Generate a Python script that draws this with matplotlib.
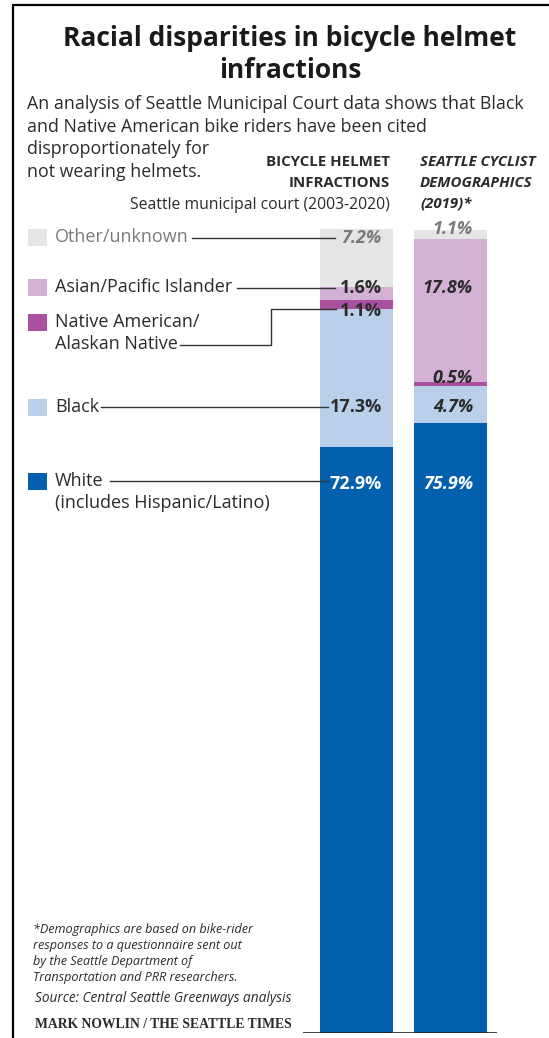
import numpy as np
import matplotlib
matplotlib.use('Agg')
import matplotlib.pyplot as plt
from matplotlib import font_manager

# Race groups, stacked from the bottom of each bar upward
groups = ['White', 'Black', 'Native American/Alaskan Native',
          'Asian/Pacific Islander', 'Other/unknown']
infractions = [72.9, 17.3, 1.1, 1.6, 7.2]      # Seattle municipal court, 2003-2020
demographics = [75.9, 4.7, 0.5, 17.8, 1.1]     # Seattle cyclist survey, 2019
colors = ['#0360AE', '#B9CFEA', '#A9509F', '#D3B1D5', '#E5E5E5']

legend_labels = ['White\n(includes Hispanic/Latino)', 'Black',
                 'Native American/\nAlaskan Native', 'Asian/Pacific Islander',
                 'Other/unknown']


def pick_font(names):
    have = {f.name for f in font_manager.fontManager.ttflist}
    for n in names:
        if n in have:
            return n
    return 'DejaVu Sans'


SANS = pick_font(['Liberation Sans Narrow', 'Open Sans', 'Noto Sans'])
SERIF = pick_font(['Liberation Serif', 'DejaVu Serif'])
plt.rcParams['font.family'] = SANS

W, H = 549, 1038
fig = plt.figure(figsize=(W / 100, H / 100), dpi=100)

# stacked bars
bx = fig.add_axes([303 / W, (H - 1033) / H, 194 / W, 804 / H])
xs = [0, 1]
bottoms = np.zeros(2)
for k in range(len(groups)):
    vals = np.array([infractions[k], demographics[k]])
    bx.bar(xs, vals, width=0.777, bottom=bottoms, color=colors[k], lw=0)
    bottoms += vals
bx.set_xlim(-0.569, 1.495)
bx.set_ylim(0, max(sum(infractions), sum(demographics)))
bx.axhline(0, color='#222222', lw=1.2)
bx.axis('off')

# full-figure overlay in pixel units for the text and leader lines
ax = fig.add_axes([0, 0, 1, 1])
ax.set_xlim(0, W)
ax.set_ylim(H, 0)
ax.axis('off')
ax.set_zorder(3)

# frame: left rule and top rule
ax.plot([12.5, 12.5], [5, H], color='black', lw=1.6, solid_capstyle='butt')
ax.plot([12, W], [5, 5], color='black', lw=1.6, solid_capstyle='butt')

dark = '#2b2b2b'
ax.text(290, 38, 'Racial disparities in bicycle helmet', ha='center', va='center',
        fontsize=19, fontweight='bold', color='#1a1a1a')
ax.text(290, 70, 'infractions', ha='center', va='center',
        fontsize=19, fontweight='bold', color='#1a1a1a')

sub = ['An analysis of Seattle Municipal Court data shows that Black',
       'and Native American bike riders have been cited',
       'disproportionately for',
       'not wearing helmets.']
for i, line in enumerate(sub):
    ax.text(27, 104 + i * 22.7, line, ha='left', va='center', fontsize=12.8, color=dark)

ax.text(390, 162, 'BICYCLE HELMET', ha='right', va='center', fontsize=10.8,
        fontweight='bold', color=dark)
ax.text(390, 183, 'INFRACTIONS', ha='right', va='center', fontsize=10.8,
        fontweight='bold', color=dark)
ax.text(390, 205, 'Seattle municipal court (2003-2020)', ha='right', va='center',
        fontsize=11.3, color=dark)
ax.text(420, 162, 'SEATTLE CYCLIST', ha='left', va='center', fontsize=10.8,
        fontweight='bold', style='italic', color=dark)
ax.text(420, 183, 'DEMOGRAPHICS', ha='left', va='center', fontsize=10.8,
        fontweight='bold', style='italic', color=dark)
ax.text(420, 204, '(2019)*', ha='left', va='center', fontsize=10.8,
        fontweight='bold', style='italic', color=dark)

# legend rows, top to bottom
rows = [481, 407, 322, 287, 237]
for lab, col, y in zip(legend_labels, colors, rows):
    ax.add_patch(plt.Rectangle((28, y - 8.5), 19, 17, color=col, lw=0))
    tcol = '#7a7a7a' if lab == 'Other/unknown' else dark
    lines = lab.split('\n')
    for j, t in enumerate(lines):
        ax.text(55, y + j * 22, t, ha='left', va='center', fontsize=13, color=tcol)

# leader lines from legend text to the first bar
lc = '#333333'
ax.plot([192, 335], [238, 238], color=lc, lw=1)
ax.plot([237, 335], [288, 288], color=lc, lw=1)
ax.plot([180, 271, 271, 336], [345, 345, 309, 309], color=lc, lw=1)
ax.plot([101, 328], [407, 407], color=lc, lw=1)
ax.plot([110, 328], [481, 481], color=lc, lw=1)

# value labels, placed on the legend rows
val_rows = [484, 407, 311, 288, 238]
val_rows2 = [484, 407, 378, 288, 229]
for k in range(len(groups)):
    if k == 0:
        c = 'white'
    elif k == 4:
        c = '#7a7a7a'
    else:
        c = dark
    st1 = 'italic' if k == 4 else 'normal'
    ax.text(382, val_rows[k], f'{infractions[k]:.1f}%', ha='right', va='center',
            fontsize=13, fontweight='bold', style=st1, color=c)
    ax.text(473, val_rows2[k], f'{demographics[k]:.1f}%', ha='right', va='center',
            fontsize=13, fontweight='bold', style='italic', color=c)

notes = ['*Demographics are based on bike-rider',
         'responses to a questionnaire sent out',
         'by the Seattle Department of',
         'Transportation and PRR researchers.']
for i, line in enumerate(notes):
    ax.text(33, 929 + i * 16.3, line, ha='left', va='center', fontsize=9.1,
            style='italic', color=dark)
ax.text(35, 998, 'Source: Central Seattle Greenways analysis', ha='left', va='center',
        fontsize=9.8, style='italic', color=dark)
ax.text(35, 1024, 'MARK NOWLIN / THE SEATTLE TIMES', ha='left', va='center',
        fontsize=9.8, fontweight='bold', family=SERIF, color=dark)

fig.savefig('out.png', dpi=100)
